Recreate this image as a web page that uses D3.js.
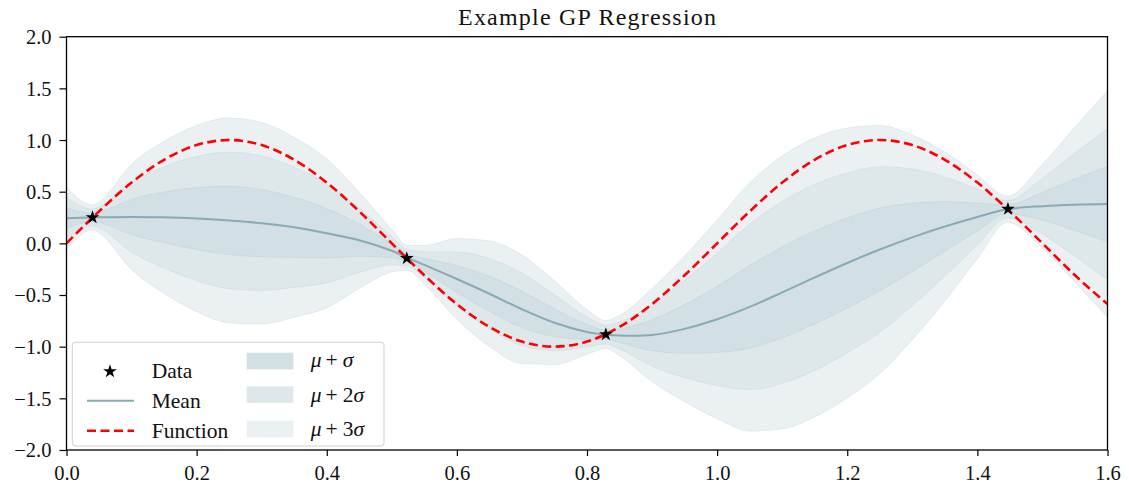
<!DOCTYPE html>
<html>
<head>
<meta charset="utf-8">
<script src="https://cdn.jsdelivr.net/npm/d3@7"></script>
<style>
    body { margin: 0; background: #fff; }
    svg text { font-family: "Liberation Serif", "DejaVu Serif", serif; fill: #111; }
</style>
</head>
<body>
<svg id="chart" width="1129" height="486"></svg>
<script>
//GP 预测的采样点
var sampleX = [0, 0.04, 0.05, 0.1, 0.15, 0.2, 0.25, 0.3, 0.35, 0.4, 0.45, 0.5, 0.524, 0.55, 0.6, 0.65, 0.7, 0.75, 0.8, 0.829, 0.85, 0.9, 0.95, 1.0, 1.05, 1.1, 1.15, 1.2, 1.25, 1.3, 1.35, 1.4, 1.446, 1.5, 1.55, 1.6];
//均值
var meanY = [0.243, 0.251, 0.252, 0.255, 0.252, 0.240, 0.222, 0.195, 0.155, 0.097, 0.030, -0.072, -0.140, -0.208, -0.345, -0.488, -0.638, -0.768, -0.857, -0.883, -0.893, -0.888, -0.828, -0.735, -0.615, -0.475, -0.330, -0.190, -0.060, 0.058, 0.163, 0.255, 0.330, 0.360, 0.374, 0.380];
//标准差
var sdY = [0.100, 0.040, 0.050, 0.170, 0.245, 0.300, 0.330, 0.325, 0.290, 0.240, 0.155, 0.068, 0.040, 0.062, 0.130, 0.170, 0.175, 0.135, 0.072, 0.045, 0.065, 0.150, 0.235, 0.320, 0.400, 0.440, 0.450, 0.435, 0.400, 0.330, 0.240, 0.135, 0.042, 0.135, 0.250, 0.365];

//真实函数（红色虚线）
var funcX = [0, 0.05, 0.1, 0.15, 0.2, 0.25, 0.3, 0.35, 0.4, 0.45, 0.5, 0.55, 0.6, 0.65, 0.7, 0.75, 0.8, 0.85, 0.9, 0.95, 1.0, 1.05, 1.1, 1.15, 1.2, 1.25, 1.3, 1.35, 1.4, 1.45, 1.5, 1.55, 1.6];
var funcY = [0, 0.309, 0.588, 0.809, 0.951, 1.0, 0.951, 0.809, 0.588, 0.309, 0, -0.309, -0.588, -0.809, -0.951, -1.0, -0.951, -0.809, -0.588, -0.309, 0, 0.309, 0.588, 0.809, 0.951, 1.0, 0.951, 0.809, 0.588, 0.309, 0, -0.309, -0.588];

//观测数据
var dataX = [0.040, 0.523, 0.829, 1.447];
var dataY = [0.250, -0.145, -0.882, 0.332];

//坐标轴刻度
var xTicks = [0, 0.2, 0.4, 0.6, 0.8, 1.0, 1.2, 1.4, 1.6];
var yTicks = [-2, -1.5, -1, -0.5, 0, 0.5, 1, 1.5, 2];

//置信带：倍数与颜色
var bandK = [3, 2, 1];
var bandFill = ['#ebf1f3', '#dee8eb', '#d2e0e5'];
var bandEdge = ['#dbe6ea', '#d0dee3', '#c6d7dd'];
var bandLabel = ['3', '2', ''];

const width = 1129, height = 486;
const margin = {left: 66.5, right: 21.5, top: 36.7, bottom: 36};

var svg = d3.select('#chart');

var x = d3.scaleLinear().domain([0, 1.6]).range([margin.left, width - margin.right]);
var y = d3.scaleLinear().domain([-2, 2]).range([height - margin.bottom, margin.top]);

var gp = sampleX.map((d, i) => ({x: d, m: meanY[i], s: sdY[i]}));

svg.append('clipPath').attr('id', 'clip')
    .append('rect')
    .attr('x', margin.left).attr('y', margin.top)
    .attr('width', width - margin.left - margin.right)
    .attr('height', height - margin.top - margin.bottom);

var plot = svg.append('g').attr('clip-path', 'url(#clip)');

//绘制置信带，从外到内
bandK.forEach((k, i) => {
    var area = d3.area()
        .x(d => x(d.x))
        .y0(d => y(d.m - k * d.s))
        .y1(d => y(d.m + k * d.s))
        .curve(d3.curveMonotoneX);
    plot.append('path')
        .datum(gp)
        .attr('d', area)
        .attr('fill', bandFill[i])
        .attr('stroke', bandEdge[i])
        .attr('stroke-width', 0.8);
});

//均值曲线
var meanLine = d3.line()
    .x(d => x(d.x))
    .y(d => y(d.m))
    .curve(d3.curveCatmullRom.alpha(0.5));
plot.append('path')
    .datum(gp)
    .attr('d', meanLine)
    .attr('fill', 'none')
    .attr('stroke', '#88aab5')
    .attr('stroke-width', 2);

//真实函数
var funcLine = d3.line()
    .x((d, i) => x(funcX[i]))
    .y(d => y(d))
    .curve(d3.curveMonotoneX);
plot.append('path')
    .datum(funcY)
    .attr('d', funcLine)
    .attr('fill', 'none')
    .attr('stroke', '#ff0000')
    .attr('stroke-width', 2.6)
    .attr('stroke-dasharray', '9,4.5');

//数据点（星形）
var star = d3.symbol().type(d3.symbolStar).size(58);
svg.append('g').selectAll('path')
    .data(dataX)
    .enter()
    .append('path')
    .attr('d', star)
    .attr('transform', (d, i) => `translate(${x(d)},${y(dataY[i])})`)
    .attr('fill', '#000');

//坐标轴
var fmt = d3.format('.1f');
var xAxis = svg.append('g')
    .attr('transform', `translate(0,${height - margin.bottom})`)
    .call(d3.axisBottom(x).tickValues(xTicks).tickFormat(fmt).tickSize(6).tickPadding(6));
var yAxis = svg.append('g')
    .attr('transform', `translate(${margin.left},0)`)
    .call(d3.axisLeft(y).tickValues(yTicks).tickFormat(fmt).tickSize(7).tickPadding(8));

[xAxis, yAxis].forEach(g => {
    g.select('.domain').remove();
    g.selectAll('line').attr('stroke', '#000').attr('stroke-width', 1.2);
    g.selectAll('text').attr('font-size', 20.5).attr('fill', '#111')
        .attr('font-family', '"Liberation Serif", serif');
});
yAxis.selectAll('text').attr('dy', '0.34em');
xAxis.selectAll('text').attr('dy', '0.9em');

//边框
svg.append('rect')
    .attr('x', margin.left).attr('y', margin.top)
    .attr('width', width - margin.left - margin.right)
    .attr('height', height - margin.top - margin.bottom)
    .attr('fill', 'none')
    .attr('stroke', '#000')
    .attr('stroke-width', 1.3);

//标题
svg.append('text')
    .attr('x', (margin.left + width - margin.right) / 2)
    .attr('y', 25)
    .attr('text-anchor', 'middle')
    .attr('font-size', 24)
    .attr('textLength', 258)
    .attr('lengthAdjust', 'spacing')
    .text('Example GP Regression');

//图例
var legend = svg.append('g');
legend.append('rect')
    .attr('x', 72.3).attr('y', 342.3)
    .attr('width', 311.7).attr('height', 103.7)
    .attr('rx', 3)
    .attr('fill', '#fff').attr('fill-opacity', 0.85)
    .attr('stroke', '#d0d0d0').attr('stroke-width', 1);

legend.append('path')
    .attr('d', d3.symbol().type(d3.symbolStar).size(58))
    .attr('transform', 'translate(110,371.5)')
    .attr('fill', '#000');
legend.append('line')
    .attr('x1', 87).attr('x2', 134).attr('y1', 400.7).attr('y2', 400.7)
    .attr('stroke', '#88aab5').attr('stroke-width', 2);
legend.append('line')
    .attr('x1', 87).attr('x2', 134).attr('y1', 430.7).attr('y2', 430.7)
    .attr('stroke', '#ff0000').attr('stroke-width', 2.6).attr('stroke-dasharray', '9,4.5');

var leftLabels = ['Data', 'Mean', 'Function'];
var leftBase = [377.5, 408.3, 438.3];
legend.selectAll('text.left')
    .data(leftLabels)
    .enter()
    .append('text')
    .attr('class', 'left')
    .attr('x', 151.7)
    .attr('y', (d, i) => leftBase[i])
    .attr('font-size', 21.5)
    .text(d => d);

//右列：置信带色块
var patchY = [352.7, 386.3, 420.7];
var labelBase = [367.3, 401.5, 436];
[2, 1, 0].forEach((bi, j) => {
    legend.append('rect')
        .attr('x', 246.7).attr('y', patchY[j])
        .attr('width', 46.7).attr('height', 16.7)
        .attr('fill', bandFill[bi]);
    var t = legend.append('text')
        .attr('x', 310.7)
        .attr('y', labelBase[j])
        .attr('font-size', 21.5);
    t.append('tspan').attr('font-style', 'italic').text('μ');
    t.append('tspan').attr('dx', 4).text('+');
    if (bandLabel[bi] !== '') {
        t.append('tspan').attr('dx', 5).text(bandLabel[bi]);
        t.append('tspan').attr('font-style', 'italic').text('σ');
    } else {
        t.append('tspan').attr('dx', 5).attr('font-style', 'italic').text('σ');
    }
});
</script>
</body>
</html>
